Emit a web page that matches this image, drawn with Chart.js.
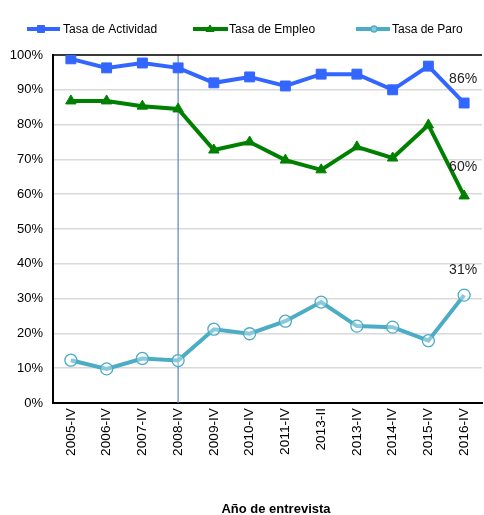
<!DOCTYPE html>
<html>
<head>
<meta charset="utf-8">
<script src="https://cdn.jsdelivr.net/npm/chart.js@4"></script>
<style>
  html, body { margin: 0; padding: 0; background: #fff; }
  #wrap { width: 484px; height: 515px; position: relative; }
</style>
</head>
<body>
<div id="wrap"><canvas id="chart" width="484" height="515"></canvas></div>
<script>
// Datos
const categorias = ['2005-IV', '2006-IV', '2007-IV', '2008-IV', '2009-IV', '2010-IV', '2011-IV', '2013-II', '2013-IV', '2014-IV', '2015-IV', '2016-IV'];
const tasaActividad = [98.9, 96.3, 97.7, 96.3, 92.0, 93.7, 91.1, 94.5, 94.5, 90.0, 96.8, 86.2];
const tasaEmpleo    = [86.8, 86.8, 85.3, 84.5, 72.7, 75.0, 69.8, 67.0, 73.6, 70.4, 79.9, 59.5];
const tasaParo      = [12.3, 9.8, 12.8, 12.2, 21.2, 19.9, 23.5, 29.0, 22.1, 21.8, 17.9, 31.0];
const etiquetasFinales = ['86%', '60%', '31%'];
const lineaVertical = '2008-IV';
const tituloEjeX = 'Año de entrevista';

const FONT = 'Liberation Sans, Arial, sans-serif';

// Leyenda dibujada a mano (linea + marcador)
const customLegend = {
  id: 'customLegend',
  afterDraw(chart) {
    const ctx = chart.ctx;
    const items = [
      { x0: 27, x1: 60, mx: 41, tx: 63, ds: 0 },
      { x0: 193, x1: 228, mx: 210, tx: 229, ds: 1 },
      { x0: 356, x1: 390, mx: 374, tx: 392, ds: 2 }
    ];
    const y = 29;
    ctx.save();
    items.forEach(it => {
      const d = chart.data.datasets[it.ds];
      ctx.strokeStyle = d.borderColor;
      ctx.lineWidth = 4;
      ctx.beginPath();
      ctx.moveTo(it.x0, y);
      ctx.lineTo(it.x1, y);
      ctx.stroke();
      ctx.fillStyle = d.pointBackgroundColor;
      ctx.strokeStyle = d.pointBorderColor;
      ctx.lineWidth = d.pointBorderWidth;
      ctx.beginPath();
      if (d.pointStyle === 'rect') {
        ctx.rect(it.mx - 3.5, y - 3.5, 7, 7);
      } else if (d.pointStyle === 'triangle') {
        ctx.moveTo(it.mx, y - 4);
        ctx.lineTo(it.mx + 4, y + 2.5);
        ctx.lineTo(it.mx - 4, y + 2.5);
        ctx.closePath();
      } else {
        ctx.arc(it.mx, y, 3, 0, Math.PI * 2);
      }
      ctx.fill();
      ctx.stroke();
      ctx.fillStyle = '#000';
      ctx.font = '12px ' + FONT;
      ctx.textBaseline = 'middle';
      ctx.textAlign = 'left';
      ctx.fillText(d.label, it.tx, y + 1);
    });
    // titulo del eje x
    ctx.font = 'bold 13px ' + FONT;
    ctx.textAlign = 'center';
    ctx.textBaseline = 'middle';
    ctx.fillText(tituloEjeX, 276, 509);
    ctx.restore();
  }
};

// Linea vertical, borde superior y etiquetas finales
const extras = {
  id: 'extras',
  beforeDatasetsDraw(chart) {
    const { ctx, chartArea, scales } = chart;
    ctx.save();
    const xv = scales.x.getPixelForValue(categorias.indexOf(lineaVertical));
    ctx.strokeStyle = '#5b86c8';
    ctx.lineWidth = 1.2;
    ctx.beginPath();
    ctx.moveTo(xv, chartArea.top);
    ctx.lineTo(xv, chartArea.bottom);
    ctx.stroke();
    ctx.strokeStyle = '#000';
    ctx.lineWidth = 1.5;
    ctx.beginPath();
    ctx.moveTo(chartArea.left, chartArea.top);
    ctx.lineTo(chartArea.right, chartArea.top);
    ctx.stroke();
    ctx.restore();
  },
  afterDatasetsDraw(chart) {
    const { ctx, scales } = chart;
    const last = categorias.length - 1;
    const x = scales.x.getPixelForValue(last);
    const series = [tasaActividad, tasaEmpleo, tasaParo];
    const offs = [24, 29, 25];
    ctx.save();
    ctx.fillStyle = '#222';
    ctx.font = '14px ' + FONT;
    ctx.textAlign = 'center';
    ctx.textBaseline = 'middle';
    series.forEach((s, i) => {
      const y = scales.y.getPixelForValue(s[last]);
      ctx.fillText(etiquetasFinales[i], x - 1, y - offs[i]);
    });
    ctx.restore();
  }
};

const ctx = document.getElementById('chart').getContext('2d');
new Chart(ctx, {
  type: 'line',
  data: {
    labels: categorias,
    datasets: [
      {
        label: 'Tasa de Actividad',
        data: tasaActividad,
        borderColor: '#3366ff',
        backgroundColor: '#3366ff',
        pointBackgroundColor: '#3366ff',
        pointBorderColor: '#3366ff',
        pointBorderWidth: 1,
        borderWidth: 4,
        pointStyle: 'rect',
        pointRadius: 7,
        tension: 0
      },
      {
        label: 'Tasa de Empleo',
        data: tasaEmpleo,
        borderColor: '#008000',
        backgroundColor: '#008000',
        pointBackgroundColor: '#008000',
        pointBorderColor: '#008000',
        pointBorderWidth: 1,
        borderWidth: 4,
        pointStyle: 'triangle',
        pointRadius: 6,
        tension: 0
      },
      {
        label: 'Tasa de Paro',
        data: tasaParo,
        borderColor: '#4bacc6',
        backgroundColor: '#4bacc6',
        pointBackgroundColor: 'rgba(255,255,255,0.35)',
        pointBorderColor: '#4bacc6',
        pointBorderWidth: 1.3,
        borderWidth: 4,
        pointStyle: 'circle',
        pointRadius: 6,
        tension: 0
      }
    ]
  },
  options: {
    responsive: false,
    animation: false,
    layout: { autoPadding: false, padding: { top: 55, right: 2, left: 0, bottom: 0 } },
    plugins: {
      legend: { display: false },
      tooltip: { enabled: false },
      title: { display: false }
    },
    scales: {
      x: {
        offset: true,
        grid: { display: false, drawTicks: false },
        border: { display: true, color: '#000', width: 2 },
        ticks: {
          color: '#000',
          font: { family: FONT, size: 13.7 },
          minRotation: 90,
          maxRotation: 90,
          padding: 5,
          autoSkip: false
        },
        afterFit(scale) {
          scale.height = 112;
          scale.paddingLeft = 0;
          scale.paddingRight = 0;
        }
      },
      y: {
        min: 0,
        max: 100,
        grid: { color: '#d9d9d9', lineWidth: 1.5, drawTicks: false },
        border: { display: true, color: '#000', width: 2 },
        ticks: {
          stepSize: 10,
          color: '#000',
          padding: 10,
          font: { family: FONT, size: 13 },
          callback: v => v + '%'
        },
        afterFit(scale) {
          scale.width = 53;
          scale.paddingTop = 0;
          scale.paddingBottom = 0;
        }
      }
    }
  },
  plugins: [customLegend, extras]
});
</script>
</body>
</html>
